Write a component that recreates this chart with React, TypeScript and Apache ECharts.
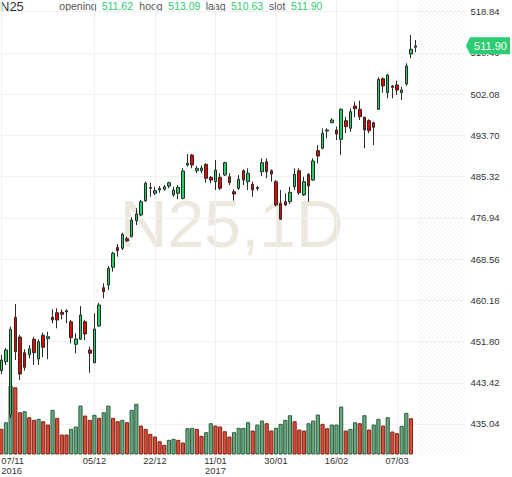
import React, { useEffect, useRef } from "react";
import * as echarts from "echarts";

// ---------- data ----------
const SYMBOL = "N25";
const PERIOD = "1D";

const dates = [
  "07/11/2016", "08/11/2016", "09/11/2016", "10/11/2016", "11/11/2016", "14/11/2016", "15/11/2016", "16/11/2016", "17/11/2016", "18/11/2016",
  "21/11/2016", "22/11/2016", "23/11/2016", "24/11/2016", "25/11/2016", "28/11/2016", "29/11/2016", "30/11/2016",
  "01/12/2016", "02/12/2016", "05/12/2016", "06/12/2016", "07/12/2016", "08/12/2016", "09/12/2016", "12/12/2016", "13/12/2016", "14/12/2016",
  "15/12/2016", "16/12/2016", "19/12/2016", "20/12/2016", "21/12/2016", "22/12/2016", "23/12/2016", "27/12/2016", "28/12/2016", "29/12/2016", "30/12/2016",
  "02/01/2017", "03/01/2017", "04/01/2017", "05/01/2017", "06/01/2017", "09/01/2017", "10/01/2017", "11/01/2017", "12/01/2017", "13/01/2017",
  "16/01/2017", "17/01/2017", "18/01/2017", "19/01/2017", "20/01/2017", "23/01/2017", "24/01/2017", "25/01/2017", "26/01/2017", "27/01/2017",
  "30/01/2017", "31/01/2017",
  "01/02/2017", "02/02/2017", "03/02/2017", "06/02/2017", "07/02/2017", "08/02/2017", "09/02/2017", "10/02/2017", "13/02/2017", "14/02/2017",
  "15/02/2017", "16/02/2017", "17/02/2017", "20/02/2017", "21/02/2017", "22/02/2017", "23/02/2017", "24/02/2017", "27/02/2017", "28/02/2017",
  "01/03/2017", "02/03/2017", "03/03/2017", "06/03/2017", "07/03/2017", "08/03/2017", "09/03/2017", "10/03/2017", "13/03/2017",
];
const FUTURE_SLOTS = 10;

const opens = [
  445.87, 447.70, 436.87, 456.73, 452.72, 449.53, 449.13, 452.26, 448.25, 453.07,
  452.38, 456.73, 457.66, 457.74, 457.80, 455.83, 451.24, 452.26, 455.83, 450.08,
  447.50, 454.96, 462.74, 463.29, 466.89, 470.95, 470.75, 472.70, 473.11, 476.36,
  477.52, 480.37, 483.10, 481.93, 482.60, 482.74, 483.41, 481.59, 481.93, 480.91,
  487.68, 489.71, 486.52, 486.52, 487.82, 485.18, 484.29, 485.18, 485.65, 485.31,
  482.26, 482.95, 486.52, 484.29, 483.76, 483.10, 486.32, 488.35, 486.52, 484.29,
  479.90, 480.22, 480.22, 483.27, 486.52, 481.59, 485.79, 484.63, 490.59, 491.08,
  494.59, 496.28, 494.80, 492.91, 496.69, 495.14, 499.67, 499.00, 497.37, 496.69,
  496.28, 499.00, 505.22, 502.38, 503.74, 503.94, 502.38, 504.14, 510.24, 511.62,
];
const closes = [
  448.05, 450.08, 454.29, 449.73, 445.20, 446.56, 450.34, 449.53, 451.77, 450.63,
  452.78, 456.18, 456.18, 457.34, 458.07, 452.58, 452.32, 457.19, 453.33, 449.41,
  454.35, 459.23, 461.93, 466.69, 469.74, 470.26, 473.60, 472.24, 476.50, 477.72,
  480.22, 483.96, 482.95, 482.46, 482.90, 483.27, 484.08, 482.60, 483.15, 486.46,
  488.03, 487.68, 487.01, 487.07, 484.98, 484.63, 486.67, 482.95, 488.15, 484.08,
  481.79, 484.78, 484.63, 485.99, 482.60, 482.90, 488.15, 486.32, 485.85, 479.55,
  476.65, 479.55, 482.13, 485.79, 482.05, 484.29, 483.41, 488.49, 489.51, 494.13,
  494.80, 496.83, 493.98, 499.00, 495.47, 498.52, 499.13, 497.50, 494.80, 494.66,
  495.34, 505.10, 503.74, 505.98, 503.48, 502.93, 502.93, 507.80, 511.20, 511.90,
];
const lows = [
  445.20, 447.03, 436.26, 448.05, 443.98, 445.87, 448.39, 447.03, 447.03, 448.60,
  448.19, 455.51, 454.49, 456.32, 455.51, 451.44, 449.41, 452.11, 452.11, 445.47,
  447.38, 454.82, 460.59, 462.28, 465.99, 469.04, 470.41, 472.09, 472.99, 475.49,
  477.32, 480.22, 481.24, 481.59, 482.05, 482.46, 482.95, 481.24, 480.71, 480.71,
  487.34, 487.01, 485.99, 486.00, 484.08, 483.96, 482.60, 482.60, 485.45, 483.62,
  480.43, 482.60, 483.62, 482.60, 481.24, 482.46, 485.45, 484.98, 484.29, 479.21,
  476.50, 479.35, 479.76, 482.60, 481.59, 481.38, 480.22, 484.49, 487.99, 490.87,
  493.11, 496.16, 492.76, 489.71, 494.13, 494.45, 497.37, 496.83, 491.08, 494.13,
  491.75, 498.86, 502.38, 501.24, 501.24, 501.91, 500.90, 503.74, 509.37, 510.63,
];
const highs = [
  449.06, 450.49, 454.82, 459.43, 453.13, 450.22, 451.10, 452.78, 452.26, 453.60,
  453.80, 458.35, 458.56, 458.35, 458.35, 456.18, 453.47, 459.02, 456.18, 450.75,
  457.54, 459.69, 463.64, 467.15, 470.06, 471.63, 473.92, 473.11, 477.05, 478.88,
  480.57, 484.29, 484.08, 483.27, 483.41, 483.62, 484.29, 483.27, 483.62, 487.01,
  489.92, 489.92, 487.48, 487.60, 488.03, 485.45, 488.70, 486.00, 488.35, 486.00,
  482.74, 485.65, 486.81, 487.01, 484.29, 483.41, 489.04, 489.04, 486.81, 484.63,
  482.60, 481.93, 483.27, 487.01, 487.01, 485.31, 485.99, 489.04, 491.75, 495.14,
  495.14, 497.17, 495.47, 499.21, 497.50, 499.21, 500.55, 500.76, 497.50, 496.97,
  496.48, 505.51, 505.51, 506.18, 503.94, 504.82, 503.60, 508.35, 514.11, 513.09,
];

// volume (relative units) for every finished session; the live session has none yet
const volumes = [
  25.7, 32.3, 69.0, 67.3, 42.3, 43.3, 37.3, 34.7, 35.7, 33.3,
  30.0, 44.7, 36.7, 20.0, 20.0, 25.7, 28.0, 49.0, 39.0, 34.7,
  39.7, 36.7, 42.3, 49.0, 36.7, 33.3, 34.7, 32.3, 44.7, 50.7,
  29.0, 25.7, 20.7, 18.0, 13.3, 9.7, 14.7, 15.7, 14.7, 12.0,
  26.3, 26.7, 25.7, 18.7, 22.3, 31.3, 29.0, 28.0, 23.3, 18.0,
  22.3, 26.7, 26.7, 32.3, 24.0, 30.0, 34.0, 31.3, 24.0, 26.7,
  30.7, 34.7, 39.3, 33.3, 25.0, 24.0, 31.3, 34.0, 40.0, 30.7,
  26.3, 30.0, 30.0, 48.0, 24.0, 25.7, 32.3, 31.3, 39.3, 25.0,
  30.0, 35.7, 29.0, 37.3, 23.0, 21.3, 28.7, 41.7, 36.3,
];
const volumeUp = [
  0, 1, 1, 0, 0, 1, 0, 0, 1, 0,
  0, 1, 0, 0, 0, 1, 1, 1, 0, 0,
  1, 0, 1, 1, 0, 0, 1, 0, 1, 1,
  0, 0, 0, 0, 0, 0, 1, 1, 0, 0,
  1, 1, 0, 0, 1, 1, 0, 0, 0, 0,
  1, 1, 1, 1, 0, 1, 1, 0, 0, 1,
  1, 1, 1, 0, 0, 0, 1, 1, 1, 0,
  0, 1, 1, 1, 0, 1, 1, 0, 1, 0,
  1, 1, 0, 1, 0, 0, 1, 1, 0,
];

const yTicks = [435.04, 443.42, 451.8, 460.18, 468.56, 476.94, 485.32, 493.7, 502.08, 510.46, 518.84];
const xTickDates = ["07/11/2016", "05/12/2016", "22/12/2016", "11/01/2017", "30/01/2017", "16/02/2017", "07/03/2017"];

// ---------- layout / style ----------
const FONT = "'Liberation Sans', Arial, Helvetica, sans-serif";
const GRID = { left: -1, top: 0, width: 465.5, height: 454.5 };
const Y_MIN = 428.84;
const Y_MAX = 521.22;
const VOL_AXIS_MAX = 455;
const UP = "#22d162";
const DOWN = "#e60000";
const TAG_GREEN = "#2ecc71";
const GRID_LINE = "#f1f1f1";

const categories = dates.concat(Array.from({ length: FUTURE_SLOTS }, (_, i) => `future-${i + 1}`));
const tickSet = new Set(xTickDates);
const tickText: Record<string, string> = {};
xTickDates.forEach((d, i) => {
  const [dd, mm, yyyy] = d.split("/");
  const prevYear = i > 0 ? xTickDates[i - 1].split("/")[2] : "";
  tickText[d] = `${dd}/${mm}` + (yyyy !== prevYear ? `\n${yyyy}` : "");
});
const showTick = (_i: number, v: string) => tickSet.has(v);

const ohlc = dates.map((_, i) => [opens[i], closes[i], lows[i], highs[i]]);
const last = dates.length - 1;

const renderHatch = (params: any, api: any) => {
  const cs = params.coordSys;
  const band = api.size([1, 0])[0];
  const xa = api.coord([api.value(0), Y_MIN])[0] - band / 2;
  const xb = cs.x + cs.width;
  const ya = cs.y;
  const yb = cs.y + cs.height;
  const h = yb - ya;
  const children: any[] = [];
  for (let c = xa - h; c < xb; c += 4) {
    const t0 = Math.max(0, (xa - c) / h);
    const t1 = Math.min(1, (xb - c) / h);
    if (t1 <= t0) continue;
    children.push({
      type: "line",
      shape: { x1: c + t0 * h, y1: yb - t0 * h, x2: c + t1 * h, y2: yb - t1 * h },
      style: { stroke: "#f0f0f0", lineWidth: 1 },
    });
  }
  return { type: "group", children, silent: true };
};

const renderTag = (params: any, api: any) => {
  const cs = params.coordSys;
  const y = api.coord([api.value(0), api.value(1)])[1];
  const r = cs.x + cs.width;
  const hh = 8.5;
  return {
    type: "group",
    children: [
      {
        type: "polygon",
        shape: { points: [[r + 1.5, y], [r + 5.5, y - hh], [r + 45.5, y - hh], [r + 45.5, y + hh], [r + 5.5, y + hh]] },
        style: { fill: TAG_GREEN },
      },
      {
        type: "text",
        x: r + 26,
        y: y,
        style: {
          text: Number(api.value(1)).toFixed(2),
          align: "center",
          verticalAlign: "middle",
          fill: "#ffffff",
          fontSize: 11,
          fontFamily: FONT,
        },
      },
    ],
  };
};

const headerItems: { t: string; x: number; value?: boolean }[] = [
  { t: "opening", x: 59.3 },
  { t: opens[last].toFixed(2), x: 101.7, value: true },
  { t: "hoog", x: 139.3 },
  { t: highs[last].toFixed(2), x: 168.3, value: true },
  { t: "laag", x: 205.7 },
  { t: lows[last].toFixed(2), x: 231, value: true },
  { t: "slot", x: 269 },
  { t: closes[last].toFixed(2), x: 291, value: true },
];

const option: any = {
  animation: false,
  backgroundColor: "#ffffff",
  textStyle: { fontFamily: FONT },
  grid: { ...GRID, outerBoundsMode: "none", containLabel: false },
  xAxis: {
    type: "category",
    data: categories,
    boundaryGap: true,
    axisLine: { show: false },
    axisTick: { show: false, alignWithLabel: true, interval: showTick },
    axisLabel: {
      interval: showTick,
      formatter: (v: string) => tickText[v] ?? "",
      color: "#333333",
      fontSize: 9.3,
      fontFamily: FONT,
      lineHeight: 10,
      margin: 1.5,
      alignMinLabel: "left",
    },
    splitLine: { show: true, interval: showTick, alignWithLabel: true, lineStyle: { color: GRID_LINE, width: 1 } },
  },
  yAxis: [
    {
      type: "value",
      position: "right",
      min: Y_MIN,
      max: Y_MAX,
      axisLine: { show: false },
      axisTick: { show: false, customValues: yTicks },
      axisLabel: {
        customValues: yTicks,
        formatter: (v: number) => v.toFixed(2),
        color: "#333333",
        fontSize: 9.5,
        fontFamily: FONT,
        margin: 6,
      },
      splitLine: { show: true, lineStyle: { color: GRID_LINE, width: 1 } },
    },
    { type: "value", min: 0, max: VOL_AXIS_MAX, show: false, splitLine: { show: false } },
  ],
  graphic: [
    {
      type: "text",
      x: GRID.left + GRID.width / 2,
      y: GRID.top + GRID.height / 2 - 3,
      z: -10,
      silent: true,
      style: {
        text: `${SYMBOL},${PERIOD}`,
        align: "center",
        verticalAlign: "middle",
        fontSize: 66,
        fontFamily: FONT,
        fill: "#ece8dd",
      },
    },
    {
      type: "text",
      x: 0,
      y: 0,
      style: { text: SYMBOL, fontSize: 13, fontFamily: FONT, fill: "#333333", verticalAlign: "top" },
    },
    ...headerItems.map((h) => ({
      type: "text",
      x: h.x,
      y: 0,
      style: {
        text: h.t,
        fontSize: 10.5,
        fontFamily: FONT,
        fill: h.value ? TAG_GREEN : "#555555",
        verticalAlign: "top",
      },
    })),
  ],
  series: [
    {
      type: "custom",
      name: "future",
      renderItem: renderHatch,
      data: [[dates.length, Y_MIN]],
      encode: { x: 0, y: 1 },
      silent: true,
      z: 0,
    },
    {
      type: "bar",
      name: "volume",
      yAxisIndex: 1,
      barCategoryGap: "10%",
      data: volumes.map((v, i) => ({
        value: v,
        itemStyle: volumeUp[i]
          ? { color: "#68a881", borderColor: "#2b5f3e", borderWidth: 1 }
          : { color: "#dc4b35", borderColor: "#7e2618", borderWidth: 1 },
      })),
      z: 1,
    },
    {
      type: "candlestick",
      name: SYMBOL,
      data: ohlc,
      barWidth: 3,
      itemStyle: {
        color: UP,
        color0: DOWN,
        borderColor: "#2a2a2a",
        borderColor0: "#2a2a2a",
        borderWidth: 1,
      },
      z: 5,
    },
    {
      type: "custom",
      name: "lastTag",
      renderItem: renderTag,
      data: [[last, closes[last]]],
      encode: { x: 0, y: 1 },
      clip: false,
      silent: true,
      z: 10,
    },
  ],
};

export default function App() {
  const ref = useRef<HTMLDivElement>(null);
  useEffect(() => {
    const chart = echarts.init(ref.current!, undefined, { renderer: "svg" });
    chart.setOption(option);
    return () => chart.dispose();
  }, []);
  return (
    <div
      ref={ref}
      style={{ position: "fixed", left: 0, top: 0, width: 512, height: 477, background: "#ffffff" }}
    />
  );
}
